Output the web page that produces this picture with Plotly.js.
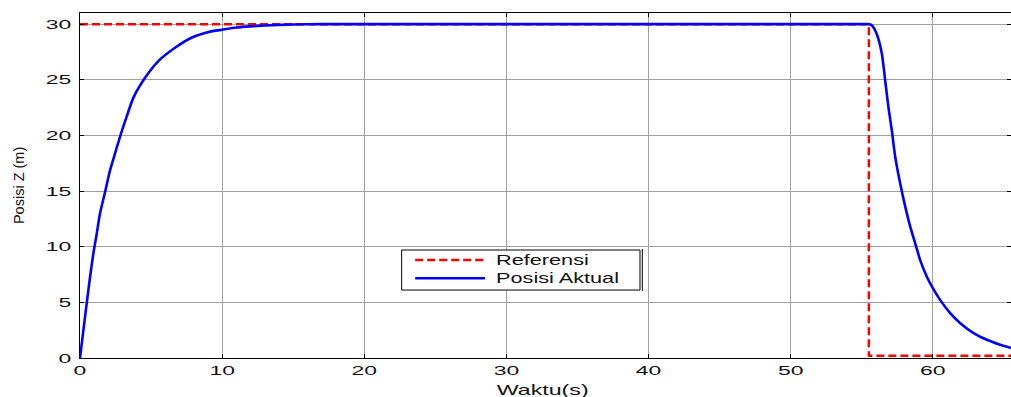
<!DOCTYPE html>
<html>
<head>
<meta charset="utf-8">
<script src="https://cdn.plot.ly/plotly-3.0.1.min.js"></script>
<style>
  html, body { margin: 0; padding: 0; background: #fff; }
  #plot { width: 1011px; height: 397px; }
</style>
</head>
<body>
<div id="plot"></div>
<script>
// Reference (setpoint) altitude over time
const refTime = [0, 55.5, 55.5, 65.5];
const refZ    = [30, 30, 0.2, 0.2];

// Measured altitude over time
const actTime = [0, 0.24, 0.47, 0.71, 0.94, 1.18, 1.41, 1.76, 2.12, 2.47, 2.82, 3.18, 3.76, 4.59,
                 5.53, 6.71, 7.88, 9.06, 10, 11, 12, 13, 14, 15, 17, 20, 25, 30, 35, 40, 45, 50, 55,
                 55.48, 55.7, 56.06, 56.42, 56.65, 56.88, 57.12, 57.35, 57.7, 58.06, 58.41, 58.76,
                 59.11, 59.58, 60, 60.52, 61.22, 61.93, 62.87, 63.8, 64.74, 65.5];
const actZ    = [0, 2.5, 4.9, 7.3, 9.4, 11.2, 13.0, 14.9, 16.9, 18.4, 19.9, 21.3, 23.4, 25.2,
                 26.7, 27.9, 28.8, 29.3, 29.5, 29.7, 29.8, 29.88, 29.93, 29.96, 30, 30, 30, 30, 30, 30, 30, 30, 30,
                 30, 29.9, 29.1, 27.3, 24.9, 22.5, 20.4, 18.1, 15.7, 13.6, 11.8, 10.3,
                 8.8, 7.3, 6.27, 5.2, 4.03, 3.13, 2.24, 1.64, 1.19, 0.9];

const seriesNames = ['Referensi', 'Posisi Aktual'];
const xLabel = 'Waktu(s)';
const yLabel = 'Posisi Z (m)';

const FONT = 'Liberation Sans, Arial, Helvetica, sans-serif';
const RED = '#ff0000';
const BLUE = '#0000ff';
const GRID = '#a0a0a0';

const traces = [
  {
    x: refTime, y: refZ, name: seriesNames[0], mode: 'lines',
    line: { color: RED, width: 2.5, dash: '8px,4px' }, hoverinfo: 'skip'
  },
  {
    x: actTime, y: actZ, name: seriesNames[1], mode: 'lines',
    line: { color: BLUE, width: 2.6, shape: 'spline', smoothing: 0.6 }, hoverinfo: 'skip'
  }
];

const axisCommon = {
  showline: true, linecolor: '#000', linewidth: 1, mirror: 'ticks',
  ticks: 'inside', ticklen: 4, tickcolor: '#000', tickwidth: 1,
  showgrid: true, gridcolor: GRID, gridwidth: 1, zeroline: false,
  tickfont: { family: FONT, size: 13.5, color: '#111' }, fixedrange: true
};

// Legend box drawn in paper coordinates
const lgX0 = 0.3455, lgX1 = 0.6015, lgYTop = 0.313, lgYBot = 0.197;
const lgLineX0 = 0.36, lgLineX1 = 0.435, lgTextX = 0.4447;
const lgRow1 = 0.284, lgRow2 = 0.231;

const layout = {
  width: 1011, height: 397,
  margin: { l: 80, r: 0, t: 13, b: 39, pad: 0 },
  paper_bgcolor: '#fff', plot_bgcolor: '#fff',
  showlegend: false,
  xaxis: Object.assign({}, axisCommon, { range: [0, 65.5], tick0: 0, dtick: 10, ticklabelstandoff: 0 }),
  yaxis: Object.assign({}, axisCommon, { range: [0, 31], tick0: 0, dtick: 5, ticklabelstandoff: 5 }),
  shapes: [
    { type: 'rect', xref: 'paper', yref: 'paper', x0: lgX0, x1: lgX1, y0: lgYBot, y1: lgYTop,
      line: { color: '#000', width: 1 }, fillcolor: '#fff', layer: 'above' },
    { type: 'line', xref: 'paper', yref: 'paper', x0: lgX1 + 0.0025, x1: lgX1 + 0.0025, y0: lgYBot - 0.003, y1: lgYTop + 0.003,
      line: { color: '#000', width: 1 }, layer: 'above' },
    { type: 'line', xref: 'paper', yref: 'paper', x0: lgLineX0, x1: lgLineX1, y0: lgRow1, y1: lgRow1,
      line: { color: RED, width: 2.5, dash: '8px,4px' }, layer: 'above' },
    { type: 'line', xref: 'paper', yref: 'paper', x0: lgLineX0, x1: lgLineX1, y0: lgRow2, y1: lgRow2,
      line: { color: BLUE, width: 2.5 }, layer: 'above' }
  ],
  annotations: [
    { text: seriesNames[0], xref: 'paper', yref: 'paper', x: lgTextX, y: lgRow1,
      xanchor: 'left', yanchor: 'middle', showarrow: false,
      font: { family: FONT, size: 14, color: '#111' } },
    { text: seriesNames[1], xref: 'paper', yref: 'paper', x: lgTextX, y: lgRow2,
      xanchor: 'left', yanchor: 'middle', showarrow: false,
      font: { family: FONT, size: 14, color: '#111' } },
    { text: xLabel, xref: 'paper', yref: 'paper', x: 0.497, y: -0.094,
      xanchor: 'center', yanchor: 'middle', showarrow: false,
      font: { family: FONT, size: 14.5, color: '#111' } },
    { text: yLabel, xref: 'paper', yref: 'paper', x: -0.066, y: 0.5, textangle: -90,
      xanchor: 'center', yanchor: 'middle', showarrow: false,
      font: { family: FONT, size: 14.5, color: '#111' } }
  ]
};

// Widen horizontal labels (wide-set lettering); the vertical axis label keeps its shape.
function widenLabels(gd) {
  const leftAnchored = new Set(seriesNames);
  gd.querySelectorAll('svg text').forEach(function (t) {
    const content = t.textContent;
    if (!content || content === yLabel) return;
    const isTick = !!t.closest('.xtick, .ytick');
    const factor = isTick ? 1.7 : (leftAnchored.has(content) ? 1.55 : 1.6);
    const bb = t.getBBox();
    let mode = t.getAttribute('text-anchor') || 'start';
    if (leftAnchored.has(content)) mode = 'start';
    let ax = bb.x;
    if (mode === 'middle') ax = bb.x + bb.width / 2;
    else if (mode === 'end') ax = bb.x + bb.width;
    const prev = t.getAttribute('transform') || '';
    t.setAttribute('transform',
      prev + ' translate(' + ax + ',0) scale(' + factor + ',1) translate(' + (-ax) + ',0)');
  });
}

Plotly.newPlot('plot', traces, layout, { staticPlot: true, displayModeBar: false })
  .then(function (gd) { widenLabels(gd); });
</script>
</body>
</html>
